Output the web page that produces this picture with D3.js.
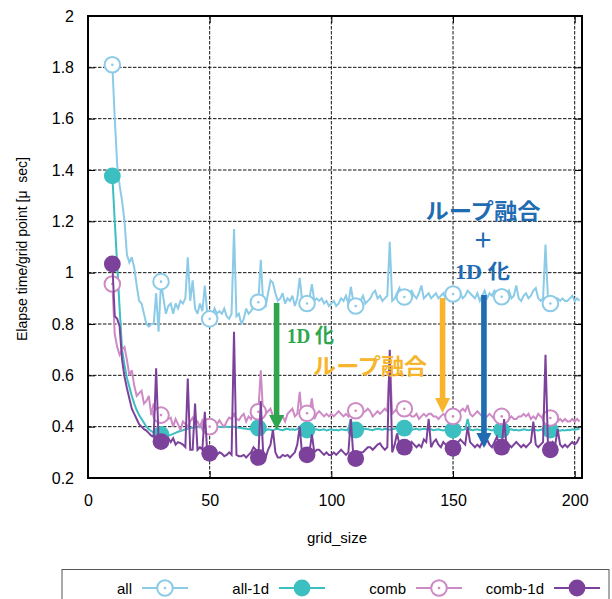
<!DOCTYPE html>
<html>
<head>
<meta charset="utf-8">
<script src="https://cdn.jsdelivr.net/npm/d3@7"></script>
<style>
  html, body { margin: 0; padding: 0; background: #fff; }
  svg { display: block; }
  text { font-family: "Liberation Sans", Arial, sans-serif; }
</style>
</head>
<body>
<svg id="chart" width="612" height="599"></svg>
<script>
// grid_size runs from 10 to 202 in steps of 1
const gridSizes = d3.range(10, 203);

const allTimes = [
  1.81, 1.60, 1.42, 1.34, 1.28, 1.20, 1.07, 1.04, 1.06, 1.02,
  0.95, 0.89, 0.88, 0.84, 0.80, 0.79, 0.80, 0.80, 0.92, 0.77,
  0.965, 0.90, 0.84, 0.87, 0.88, 0.84, 0.88, 0.86, 0.89, 0.88,
  0.90, 1.06, 0.89, 0.97, 0.86, 0.84, 0.88, 0.85, 0.95, 0.84,
  0.82, 0.83, 0.86, 0.84, 0.85, 0.84, 0.86, 0.83, 0.82, 0.84,
  1.17, 0.83, 0.84, 0.80, 0.82, 0.86, 0.84, 0.85, 0.87, 0.89,
  0.885, 1.05, 0.88, 0.87, 0.92, 0.97, 0.96, 0.92, 0.89, 0.90,
  0.92, 0.88, 0.90, 0.89, 0.91, 0.87, 0.90, 0.98, 0.89, 0.90,
  0.88, 0.90, 0.955, 0.89, 0.90, 0.89, 0.90, 0.88, 0.89, 0.87,
  0.88, 0.89, 0.87, 0.88, 0.90, 0.89, 0.91, 0.88, 0.945, 0.89,
  0.87, 0.88, 0.89, 0.91, 0.88, 0.89, 0.90, 0.92, 0.93, 0.90,
  0.91, 0.89, 0.90, 0.91, 1.12, 0.89, 0.90, 0.92, 0.94, 0.91,
  0.905, 0.91, 0.92, 0.93, 0.91, 0.90, 0.92, 0.95, 0.90, 0.91,
  0.92, 0.90, 0.91, 0.92, 0.90, 0.91, 0.92, 0.90, 0.91, 0.92,
  0.917, 0.93, 0.94, 0.92, 0.90, 0.91, 0.93, 0.92, 0.91, 0.90,
  0.92, 0.89, 0.91, 0.93, 0.90, 0.92, 0.91, 0.93, 0.92, 0.91,
  0.906, 0.92, 0.91, 0.93, 0.90, 0.91, 0.95, 0.90, 0.89, 0.91,
  0.92, 0.90, 0.91, 0.93, 0.94, 0.90, 0.89, 0.90, 1.11, 0.90,
  0.88, 0.90, 0.89, 0.90, 0.89, 0.90, 0.89, 0.89, 0.90, 0.91,
  0.89, 0.90, 0.89
];

const all1dTimes = [
  1.377, 1.20, 1.03, 0.86, 0.70, 0.64, 0.59, 0.555, 0.52, 0.49,
  0.465, 0.445, 0.43, 0.415, 0.40, 0.39, 0.383, 0.377, 0.373, 0.37,
  0.37, 0.367, 0.365, 0.365, 0.368, 0.372, 0.376, 0.38, 0.383, 0.386,
  0.39, 0.392, 0.395, 0.396, 0.398, 0.40, 0.40, 0.40, 0.40, 0.40,
  0.40, 0.40, 0.398, 0.40, 0.40, 0.398, 0.40, 0.40, 0.398, 0.40,
  0.40, 0.398, 0.396, 0.395, 0.393, 0.392, 0.39, 0.39, 0.392, 0.394,
  0.395, 0.39, 0.388, 0.386, 0.39, 0.388, 0.385, 0.39, 0.392, 0.388,
  0.386, 0.39, 0.392, 0.388, 0.39, 0.387, 0.39, 0.40, 0.388, 0.386,
  0.387, 0.39, 0.392, 0.388, 0.39, 0.386, 0.388, 0.39, 0.385, 0.388,
  0.39, 0.386, 0.388, 0.385, 0.39, 0.388, 0.386, 0.39, 0.43, 0.388,
  0.387, 0.39, 0.386, 0.388, 0.392, 0.39, 0.388, 0.386, 0.39, 0.392,
  0.39, 0.388, 0.392, 0.39, 0.388, 0.39, 0.392, 0.395, 0.39, 0.392,
  0.394, 0.392, 0.39, 0.388, 0.39, 0.392, 0.388, 0.39, 0.392, 0.39,
  0.388, 0.39, 0.386, 0.388, 0.39, 0.387, 0.385, 0.388, 0.39, 0.387,
  0.387, 0.386, 0.388, 0.39, 0.387, 0.39, 0.43, 0.388, 0.386, 0.388,
  0.39, 0.386, 0.388, 0.387, 0.39, 0.388, 0.385, 0.388, 0.39, 0.386,
  0.387, 0.389, 0.386, 0.388, 0.39, 0.386, 0.388, 0.385, 0.387, 0.39,
  0.388, 0.386, 0.388, 0.39, 0.387, 0.385, 0.388, 0.39, 0.386, 0.388,
  0.387, 0.385, 0.388, 0.386, 0.384, 0.387, 0.385, 0.388, 0.386, 0.39,
  0.388, 0.39, 0.392
];

const combTimes = [
  0.956, 0.76, 0.71, 0.68, 0.70, 0.71, 0.66, 0.60, 0.62, 0.56,
  0.52, 0.53, 0.54, 0.49, 0.50, 0.52, 0.445, 0.49, 0.47, 0.43,
  0.445, 0.44, 0.425, 0.43, 0.435, 0.40, 0.43, 0.41, 0.385, 0.42,
  0.41, 0.40, 0.42, 0.435, 0.41, 0.42, 0.40, 0.425, 0.41, 0.39,
  0.40, 0.41, 0.42, 0.41, 0.425, 0.41, 0.40, 0.42, 0.435, 0.43,
  0.45, 0.43, 0.425, 0.44, 0.45, 0.42, 0.44, 0.43, 0.46, 0.45,
  0.458, 0.62, 0.44, 0.45, 0.46, 0.47, 0.44, 0.43, 0.41, 0.43,
  0.44, 0.42, 0.45, 0.46, 0.47, 0.44, 0.45, 0.536, 0.43, 0.44,
  0.452, 0.46, 0.51, 0.43, 0.45, 0.46, 0.45, 0.44, 0.45, 0.44,
  0.45, 0.44, 0.45, 0.46, 0.45, 0.44, 0.45, 0.44, 0.46, 0.45,
  0.462, 0.45, 0.46, 0.455, 0.46, 0.47, 0.46, 0.44, 0.45, 0.46,
  0.45, 0.46, 0.47, 0.46, 0.66, 0.45, 0.46, 0.47, 0.46, 0.45,
  0.47, 0.46, 0.45, 0.44, 0.44, 0.45, 0.43, 0.44, 0.45, 0.44,
  0.45, 0.45, 0.44, 0.44, 0.43, 0.44, 0.45, 0.44, 0.45, 0.44,
  0.44, 0.45, 0.44, 0.46, 0.47, 0.46, 0.484, 0.45, 0.44, 0.45,
  0.46, 0.45, 0.44, 0.43, 0.44, 0.45, 0.44, 0.43, 0.44, 0.45,
  0.44, 0.45, 0.44, 0.43, 0.44, 0.43, 0.43, 0.44, 0.44, 0.45,
  0.44, 0.45, 0.43, 0.44, 0.43, 0.45, 0.44, 0.43, 0.44, 0.43,
  0.434, 0.43, 0.42, 0.42, 0.43, 0.42, 0.43, 0.42, 0.42, 0.43,
  0.42, 0.43, 0.42
];

const comb1dTimes = [
  1.034, 0.83, 0.82, 0.79, 0.66, 0.595, 0.55, 0.51, 0.47, 0.45,
  0.43, 0.41, 0.40, 0.39, 0.385, 0.375, 0.365, 0.36, 0.627, 0.35,
  0.342, 0.345, 0.34, 0.355, 0.34, 0.355, 0.33, 0.34, 0.336, 0.33,
  0.32, 0.588, 0.31, 0.31, 0.49, 0.31, 0.32, 0.31, 0.458, 0.30,
  0.296, 0.30, 0.295, 0.29, 0.30, 0.295, 0.285, 0.29, 0.30, 0.29,
  0.77, 0.29, 0.285, 0.285, 0.29, 0.28, 0.29, 0.30, 0.32, 0.31,
  0.28, 0.50, 0.29, 0.28, 0.31, 0.33, 0.387, 0.30, 0.28, 0.28,
  0.29, 0.285, 0.29, 0.28, 0.29, 0.30, 0.33, 0.40, 0.29, 0.28,
  0.29, 0.30, 0.37, 0.30, 0.31, 0.31, 0.30, 0.29, 0.30, 0.29,
  0.29, 0.30, 0.29, 0.30, 0.31, 0.30, 0.29, 0.30, 0.43, 0.29,
  0.276, 0.29, 0.30, 0.30, 0.31, 0.32, 0.32, 0.31, 0.32, 0.33,
  0.335, 0.32, 0.31, 0.32, 0.70, 0.30, 0.33, 0.374, 0.33, 0.32,
  0.32, 0.33, 0.32, 0.34, 0.33, 0.32, 0.33, 0.32, 0.35, 0.34,
  0.43, 0.32, 0.34, 0.35, 0.33, 0.32, 0.34, 0.33, 0.32, 0.33,
  0.316, 0.33, 0.34, 0.35, 0.34, 0.33, 0.40, 0.34, 0.33, 0.32,
  0.33, 0.32, 0.34, 0.33, 0.35, 0.33, 0.32, 0.34, 0.36, 0.33,
  0.32, 0.43, 0.32, 0.33, 0.32, 0.33, 0.34, 0.33, 0.32, 0.33,
  0.32, 0.33, 0.34, 0.42, 0.33, 0.32, 0.33, 0.34, 0.68, 0.33,
  0.31, 0.34, 0.33, 0.39, 0.33, 0.32, 0.33, 0.32, 0.33, 0.34,
  0.33, 0.34, 0.36
];

const seriesNames = ["all", "all-1d", "comb", "comb-1d"];
const seriesColors = ["#8ccbe7", "#3cbfc0", "#cd8ac5", "#7c429b"];
const seriesFilled = [false, true, false, true];
const seriesValues = [allTimes, all1dTimes, combTimes, comb1dTimes];

const xTicks = [0, 50, 100, 150, 200];
const yTicks = [0.2, 0.4, 0.6, 0.8, 1, 1.2, 1.4, 1.6, 1.8, 2];

// markers are placed on every 20th grid size, starting at 10
const markerEvery = 20;

// annotation arrows: grid_size position, start value, tip value
const arrowNotes = [
  { g: 77.5, from: 0.882, to: 0.387, color: "#2ea64e" },
  { g: 145.7, from: 0.901, to: 0.453, color: "#f6b52c" },
  { g: 162.7, from: 0.913, to: 0.317, color: "#1f6cb3" }
];

const svg = d3.select("#chart");
const margin = { left: 88, right: 30, top: 16, bottom: 121 };
const W = 612, H = 599;

const x = d3.scaleLinear().domain([0, 203]).range([margin.left, W - margin.right]);
const y = d3.scaleLinear().domain([0.2, 2]).range([H - margin.bottom, margin.top]);

const x0 = x.range()[0], x1 = x.range()[1];
const y0 = y.range()[0], y1 = y.range()[1];

// dashed grid
const grid = svg.append("g");
grid.selectAll("line.gx").data(xTicks.filter(d => d > 0)).join("line")
  .attr("x1", d => x(d)).attr("x2", d => x(d))
  .attr("y1", y1).attr("y2", y0)
  .attr("stroke", "#111").attr("stroke-width", 1).attr("stroke-dasharray", "3.5,1.5");
grid.selectAll("line.gy").data(yTicks.filter(d => d > 0.2 && d < 2)).join("line")
  .attr("x1", x0).attr("x2", x1)
  .attr("y1", d => y(d)).attr("y2", d => y(d))
  .attr("stroke", "#111").attr("stroke-width", 1).attr("stroke-dasharray", "3.5,1.5");

// axes with inward ticks, mirrored on top and right
const tickLen = 7;
const axisStyle = g => {
  g.select(".domain").remove();
  g.selectAll(".tick line").attr("stroke", "#000").attr("stroke-width", 1);
  g.selectAll(".tick text").style("font-family", "'Liberation Sans', Arial, sans-serif")
    .style("font-size", "16px").style("fill", "#000");
};
svg.append("g").attr("transform", `translate(0,${y0})`)
  .call(d3.axisBottom(x).tickValues(xTicks).tickSize(-tickLen).tickPadding(17).tickFormat(d3.format("d")))
  .call(axisStyle);
svg.append("g").attr("transform", `translate(0,${y1})`)
  .call(d3.axisTop(x).tickValues(xTicks).tickSize(-tickLen).tickFormat(""))
  .call(axisStyle);
svg.append("g").attr("transform", `translate(${x0},0)`)
  .call(d3.axisLeft(y).tickValues(yTicks).tickSize(-tickLen).tickPadding(14).tickFormat(d => d3.format("")(d)))
  .call(axisStyle);
svg.append("g").attr("transform", `translate(${x1},0)`)
  .call(d3.axisRight(y).tickValues(yTicks).tickSize(-tickLen).tickFormat(""))
  .call(axisStyle);

// frame
svg.append("rect").attr("x", x0).attr("y", y1).attr("width", x1 - x0).attr("height", y0 - y1)
  .attr("fill", "none").attr("stroke", "#000").attr("stroke-width", 2);

// axis titles
svg.append("text").attr("x", (x0 + x1) / 2 + 2).attr("y", 543).attr("text-anchor", "middle")
  .style("font-size", "15px").style("fill", "#000").text("grid_size");
svg.append("text").attr("transform", `translate(27,${(y0 + y1) / 2 + 2}) rotate(-90)`)
  .attr("text-anchor", "middle").style("font-size", "14px").style("white-space", "pre").style("fill", "#000")
  .text("Elapse time/grid point [μ  sec]");

// series
const plot = svg.append("g");
const line = d3.line().x(d => x(d[0])).y(d => y(d[1]));
const R = 7.8;

function drawMarker(sel, color, filled) {
  if (filled) {
    sel.append("circle").attr("r", R + 0.6).attr("fill", color);
  } else {
    sel.append("circle").attr("r", R).attr("fill", "#fff").attr("stroke", color).attr("stroke-width", 2);
    sel.append("circle").attr("r", 1.3).attr("fill", color);
  }
}

seriesValues.forEach((vals, i) => {
  const pts = gridSizes.map((g, k) => [g, vals[k]]);
  plot.append("path").datum(pts).attr("d", line)
    .attr("fill", "none").attr("stroke", seriesColors[i]).attr("stroke-width", 2)
    .attr("stroke-linejoin", "miter").attr("stroke-miterlimit", 3);
  const marks = pts.filter(p => (p[0] - gridSizes[0]) % markerEvery === 0);
  plot.selectAll(null).data(marks).join("g")
    .attr("transform", d => `translate(${x(d[0])},${y(d[1])})`)
    .each(function () { drawMarker(d3.select(this), seriesColors[i], seriesFilled[i]); });
});

// annotation arrows
const notes = svg.append("g");
arrowNotes.forEach(a => {
  const ax = x(a.g), yTop = y(a.from), yTip = y(a.to);
  const headH = 15, headW = 7.5;
  notes.append("rect").attr("x", ax - 2.8).attr("y", yTop).attr("width", 5.6).attr("height", yTip - yTop - headH + 1)
    .attr("fill", a.color);
  notes.append("path")
    .attr("d", `M${ax - headW},${yTip - headH} L${ax + headW},${yTip - headH} L${ax},${yTip} Z`)
    .attr("fill", a.color);
});

const noteFont = "'Liberation Serif', 'Noto Sans CJK JP', serif";
function note(txt, g, v, color, size, anchor, len) {
  const t = notes.append("text").attr("x", x(g)).attr("y", y(v)).attr("text-anchor", anchor)
    .style("font-family", noteFont).style("font-weight", "bold").style("font-size", size + "px")
    .style("fill", color).text(txt);
  if (len) t.attr("textLength", len).attr("lengthAdjust", "spacingAndGlyphs");
  return t;
}
note("1D 化", 81.8, 0.726, "#2ea64e", 20, "start", 47);
note("ループ融合", 92.5, 0.607, "#f6b52c", 22, "start", 114);
note("ループ融合", 162.3, 1.21, "#1f6cb3", 22, "middle", 115);
note("＋", 162.3, 1.095, "#1f6cb3", 20, "middle");
note("1D 化", 162.1, 0.975, "#1f6cb3", 20, "middle", 55);

// legend
const leg = svg.append("g");
leg.append("rect").attr("x", 62).attr("y", 569.5).attr("width", 547).attr("height", 40)
  .attr("fill", "#fff").attr("stroke", "#555").attr("stroke-width", 1);
const legTextRight = [132, 269, 406, 544];
const legY = 588;
seriesNames.forEach((name, i) => {
  const tx = legTextRight[i];
  leg.append("text").attr("x", tx).attr("y", legY + 5.5).attr("text-anchor", "end")
    .style("font-size", "15px").style("fill", "#000").text(name);
  leg.append("line").attr("x1", tx + 10).attr("x2", tx + 56).attr("y1", legY).attr("y2", legY)
    .attr("stroke", seriesColors[i]).attr("stroke-width", 2);
  const m = leg.append("g").attr("transform", `translate(${tx + 33},${legY})`);
  drawMarker(m, seriesColors[i], seriesFilled[i]);
});
</script>
</body>
</html>
